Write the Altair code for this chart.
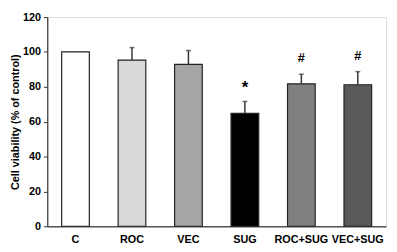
import altair as alt
import pandas as pd

groups = ["C", "ROC", "VEC", "SUG", "ROC+SUG", "VEC+SUG"]
means = [100, 95.3, 92.9, 64.8, 81.7, 81.2]
errors = [0, 7.2, 7.9, 6.8, 5.5, 7.5]
colors = ["#ffffff", "#d9d9d9", "#a6a6a6", "#000000", "#808080", "#595959"]
marks = ["", "", "", "*", "#", "#"]
y_ticks = [0, 20, 40, 60, 80, 100, 120]

df = pd.DataFrame({
    "group": groups,
    "mean": means,
    "err": errors,
    "color": colors,
    "mark": marks,
})
df["upper"] = df["mean"] + df["err"]

FONT = "Liberation Sans"

x_axis = alt.Axis(labelAngle=0, labelFont=FONT, labelFontSize=11,
                  labelFontWeight="bold", labelColor="#000000",
                  labelOverlap=False,
                  ticks=False, labelPadding=8, domainColor="#555555",
                  domainWidth=1.5)
x_scale = alt.Scale(paddingInner=0.51, paddingOuter=0.255)

y_axis = alt.Axis(values=y_ticks, grid=False,
                  labelOverlap=False, labelFlush=False,
                  labelFont=FONT, labelFontSize=11, labelFontWeight="bold",
                  labelColor="#000000", tickSize=4, tickColor="#333333",
                  domainColor="#333333", domainWidth=1.2,
                  labelPadding=3, titleFont=FONT, titleFontSize=11,
                  titleFontWeight="bold", titleColor="#000000",
                  titlePadding=2)
y_scale = alt.Scale(domain=[0, 120], nice=False)
y_title = "Cell viability (% of control)"

def X():
    return alt.X("group:N", sort=groups, title=None, scale=x_scale, axis=x_axis)

def Y(field):
    return alt.Y(field, scale=y_scale, title=y_title, axis=y_axis)

base = alt.Chart(df)

bars = base.mark_bar(stroke="#222222", strokeWidth=1.2).encode(
    x=X(),
    y=Y("mean:Q"),
    fill=alt.Fill("color:N", scale=None),
)

rules = base.transform_filter("datum.err > 0").mark_rule(
    color="#333333", strokeWidth=1.5).encode(
    x=X(),
    y=Y("mean:Q"),
    y2="upper:Q",
)

caps = base.transform_filter("datum.err > 0").mark_tick(
    color="#333333", thickness=1.5, size=5, orient="horizontal").encode(
    x=X(),
    y=Y("upper:Q"),
)

hash_text = base.transform_filter("datum.mark == '#'").mark_text(
    font=FONT, fontSize=13, fontWeight="bold", color="#000000", dy=-16).encode(
    x=X(),
    y=Y("upper:Q"),
    text="mark:N",
)

star_text = base.transform_filter("datum.mark == '*'").mark_text(
    font=FONT, fontSize=17, fontWeight="bold", color="#000000", dy=-14).encode(
    x=X(),
    y=Y("upper:Q"),
    text="mark:N",
)

chart = alt.layer(bars, rules, caps, hash_text, star_text).properties(
    width=345, height=213,
    autosize=alt.AutoSizeParams(type="none"),
    padding={"left": 40, "top": 7, "right": 3, "bottom": 26},
).configure_view(stroke=None).configure(background="#ffffff")

chart.save("out.html", embed_options={"renderer": "svg", "actions": False})
